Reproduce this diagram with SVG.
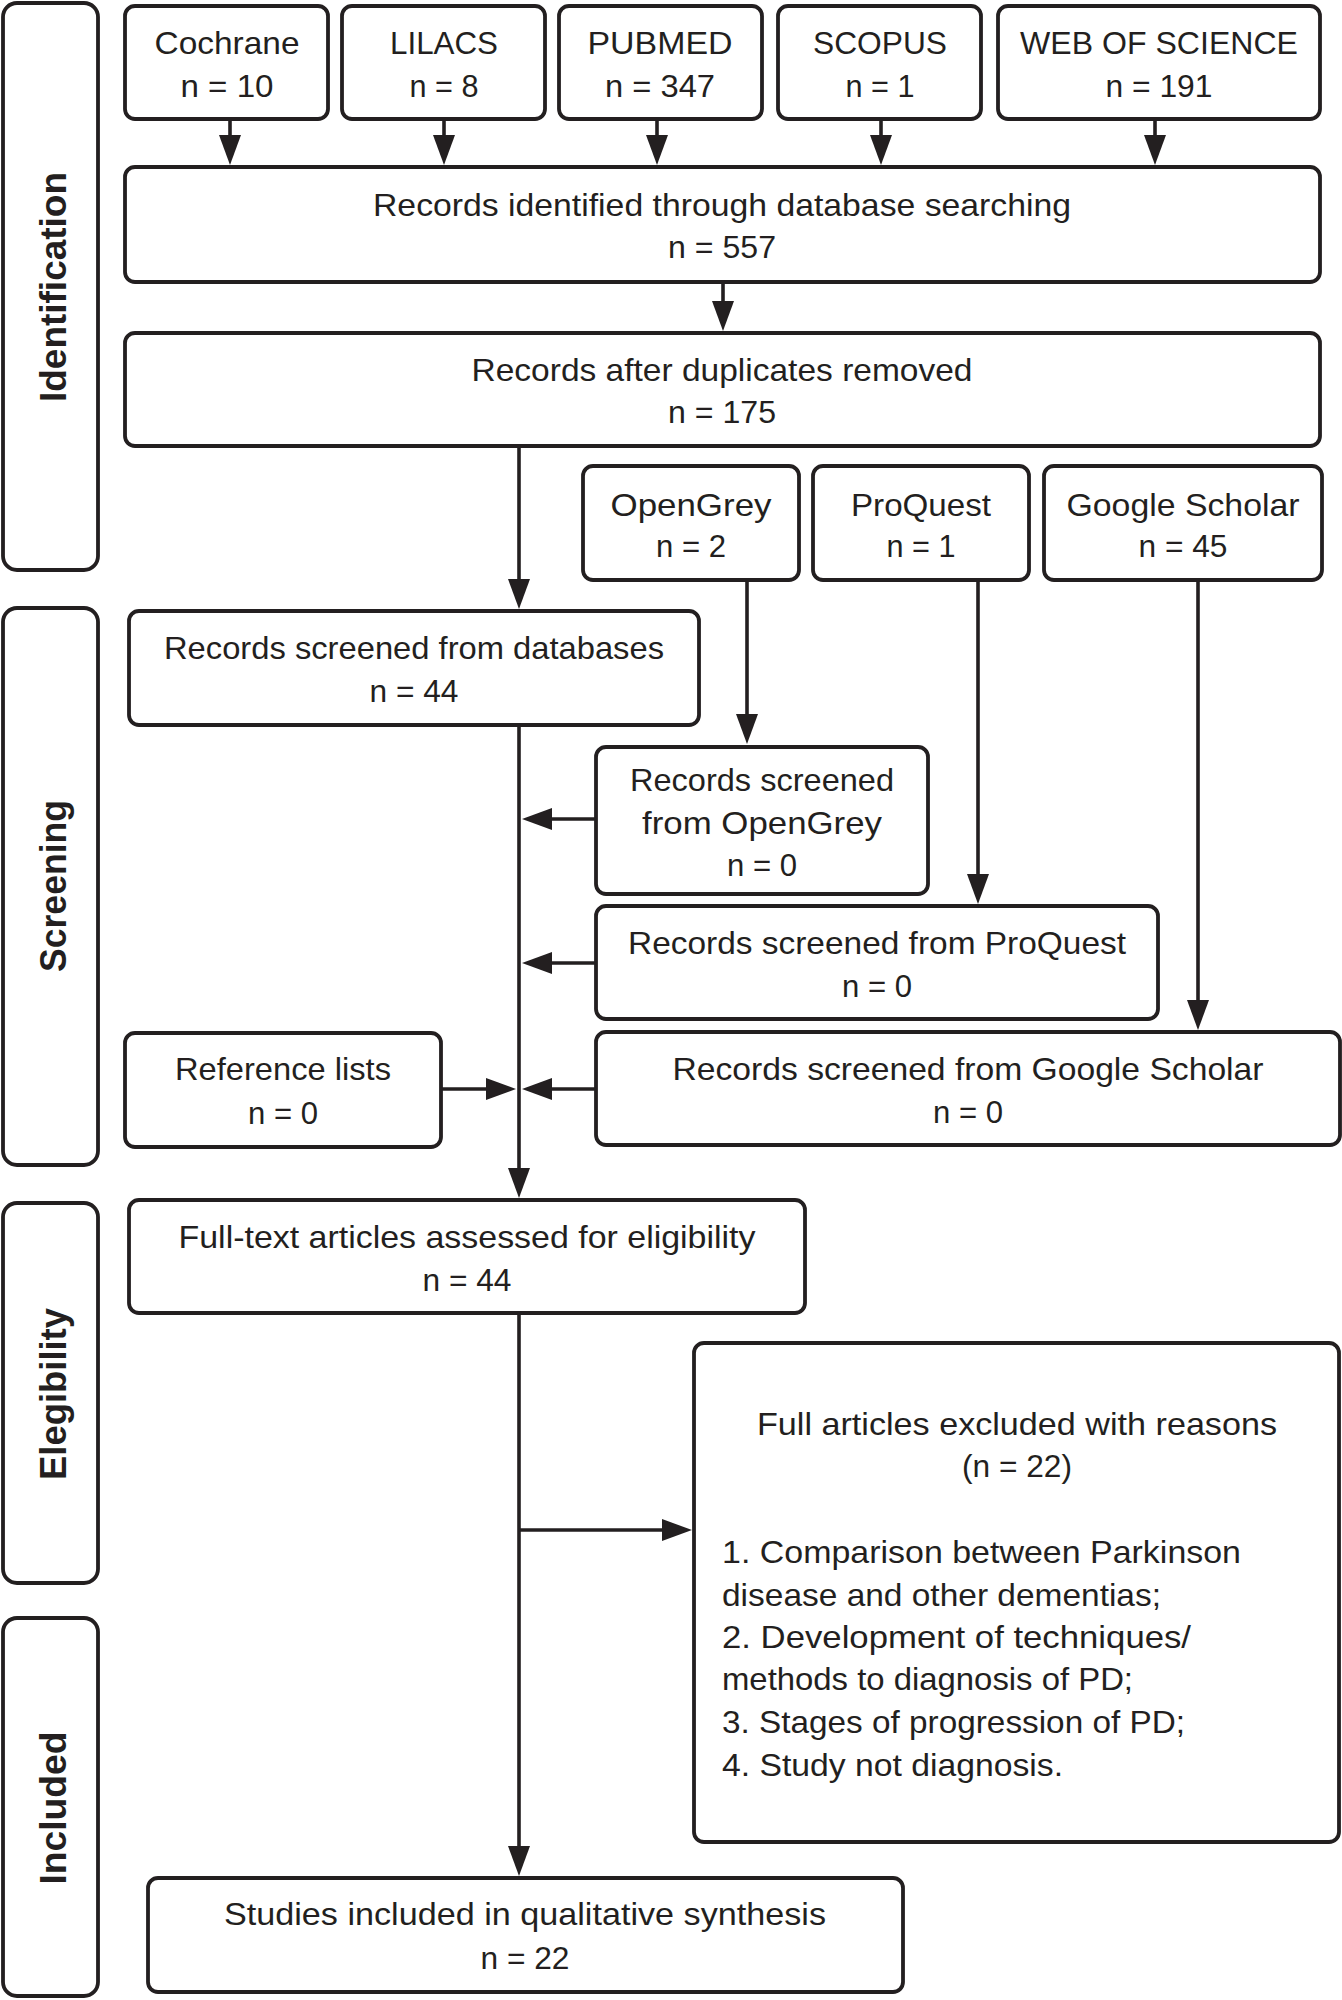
<svg xmlns="http://www.w3.org/2000/svg" width="1342" height="2000" viewBox="0 0 1342 2000">
<defs>
<style>
.box{fill:#fff;stroke:#231f20;stroke-width:3.8}
.stage{fill:#fff;stroke:#231f20;stroke-width:3.8}
.t{font-family:"Liberation Sans",Arial,sans-serif;font-size:32px;fill:#231f20;text-anchor:middle}
.l{font-family:"Liberation Sans",Arial,sans-serif;font-size:32px;fill:#231f20;text-anchor:start}
.s{font-family:"Liberation Sans",Arial,sans-serif;font-size:37px;font-weight:bold;fill:#231f20;text-anchor:middle}
.c{fill:none;stroke:#231f20;stroke-width:3.6}
</style>
<marker id="ah" markerUnits="userSpaceOnUse" markerWidth="30" markerHeight="22" viewBox="0 0 30 22" refX="20" refY="11" orient="auto">
<path d="M0,0 L30,11 L0,22 z" fill="#231f20"/>
</marker>
</defs>
<rect width="1342" height="2000" fill="#fff"/>

<g id="stage-identification"><rect class="stage" x="3" y="3" width="95" height="567" rx="14"/><text class="s" transform="translate(66,287) rotate(-90)" textLength="230" lengthAdjust="spacingAndGlyphs">Identification</text></g>
<g id="stage-screening"><rect class="stage" x="3" y="608" width="95" height="557" rx="14"/><text class="s" transform="translate(66,886) rotate(-90)" textLength="172" lengthAdjust="spacingAndGlyphs">Screening</text></g>
<g id="stage-elegibility"><rect class="stage" x="3" y="1203" width="95" height="380" rx="14"/><text class="s" transform="translate(66,1394) rotate(-90)" textLength="172" lengthAdjust="spacingAndGlyphs">Elegibility</text></g>
<g id="stage-included"><rect class="stage" x="3" y="1618" width="95" height="378" rx="14"/><text class="s" transform="translate(66,1808) rotate(-90)" textLength="153" lengthAdjust="spacingAndGlyphs">Included</text></g>

<g id="connectors">
<line class="c" x1="230" y1="119" x2="230" y2="155" marker-end="url(#ah)"/>
<line class="c" x1="444" y1="119" x2="444" y2="155" marker-end="url(#ah)"/>
<line class="c" x1="657" y1="119" x2="657" y2="155" marker-end="url(#ah)"/>
<line class="c" x1="881" y1="119" x2="881" y2="155" marker-end="url(#ah)"/>
<line class="c" x1="1155" y1="119" x2="1155" y2="155" marker-end="url(#ah)"/>
<line class="c" x1="723" y1="282" x2="723" y2="321" marker-end="url(#ah)"/>
<line class="c" x1="519" y1="446" x2="519" y2="599" marker-end="url(#ah)"/>
<line class="c" x1="747" y1="580" x2="747" y2="734" marker-end="url(#ah)"/>
<line class="c" x1="978" y1="580" x2="978" y2="894" marker-end="url(#ah)"/>
<line class="c" x1="1198" y1="580" x2="1198" y2="1020" marker-end="url(#ah)"/>
<line class="c" x1="519" y1="725" x2="519" y2="1188" marker-end="url(#ah)"/>
<line class="c" x1="596" y1="819" x2="532" y2="819" marker-end="url(#ah)"/>
<line class="c" x1="596" y1="963" x2="532" y2="963" marker-end="url(#ah)"/>
<line class="c" x1="596" y1="1089" x2="532" y2="1089" marker-end="url(#ah)"/>
<line class="c" x1="441" y1="1089" x2="506" y2="1089" marker-end="url(#ah)"/>
<line class="c" x1="519" y1="1313" x2="519" y2="1866" marker-end="url(#ah)"/>
<line class="c" x1="519" y1="1530" x2="682" y2="1530" marker-end="url(#ah)"/>
</g>

<g id="cochrane"><rect class="box" x="125" y="6" width="203" height="113" rx="10"/><text class="t" x="227" y="54" textLength="145" lengthAdjust="spacingAndGlyphs">Cochrane</text><text class="t" x="227" y="97" textLength="93" lengthAdjust="spacingAndGlyphs">n = 10</text></g>
<g id="lilacs"><rect class="box" x="342" y="6" width="203" height="113" rx="10"/><text class="t" x="444" y="54" textLength="108" lengthAdjust="spacingAndGlyphs">LILACS</text><text class="t" x="444" y="97" textLength="69" lengthAdjust="spacingAndGlyphs">n = 8</text></g>
<g id="pubmed"><rect class="box" x="559" y="6" width="203" height="113" rx="10"/><text class="t" x="660" y="54" textLength="145" lengthAdjust="spacingAndGlyphs">PUBMED</text><text class="t" x="660" y="97" textLength="110" lengthAdjust="spacingAndGlyphs">n = 347</text></g>
<g id="scopus"><rect class="box" x="778" y="6" width="203" height="113" rx="10"/><text class="t" x="880" y="54" textLength="134" lengthAdjust="spacingAndGlyphs">SCOPUS</text><text class="t" x="880" y="97" textLength="69" lengthAdjust="spacingAndGlyphs">n = 1</text></g>
<g id="wos"><rect class="box" x="998" y="6" width="322" height="113" rx="10"/><text class="t" x="1159" y="54" textLength="278" lengthAdjust="spacingAndGlyphs">WEB OF SCIENCE</text><text class="t" x="1159" y="97" textLength="107" lengthAdjust="spacingAndGlyphs">n = 191</text></g>

<g id="identified"><rect class="box" x="125" y="167" width="1195" height="115" rx="10"/><text class="t" x="722" y="216" textLength="698" lengthAdjust="spacingAndGlyphs">Records identified through database searching</text><text class="t" x="722" y="258" textLength="108" lengthAdjust="spacingAndGlyphs">n = 557</text></g>
<g id="duplicates"><rect class="box" x="125" y="333" width="1195" height="113" rx="10"/><text class="t" x="722" y="381" textLength="501" lengthAdjust="spacingAndGlyphs">Records after duplicates removed</text><text class="t" x="722" y="423" textLength="108" lengthAdjust="spacingAndGlyphs">n = 175</text></g>

<g id="opengrey"><rect class="box" x="583" y="466" width="216" height="114" rx="10"/><text class="t" x="691" y="516" textLength="161" lengthAdjust="spacingAndGlyphs">OpenGrey</text><text class="t" x="691" y="557" textLength="70" lengthAdjust="spacingAndGlyphs">n = 2</text></g>
<g id="proquest"><rect class="box" x="813" y="466" width="216" height="114" rx="10"/><text class="t" x="921" y="516" textLength="140" lengthAdjust="spacingAndGlyphs">ProQuest</text><text class="t" x="921" y="557" textLength="69" lengthAdjust="spacingAndGlyphs">n = 1</text></g>
<g id="googlescholar"><rect class="box" x="1044" y="466" width="278" height="114" rx="10"/><text class="t" x="1183" y="516" textLength="233" lengthAdjust="spacingAndGlyphs">Google Scholar</text><text class="t" x="1183" y="557" textLength="89" lengthAdjust="spacingAndGlyphs">n = 45</text></g>

<g id="screened-databases"><rect class="box" x="129" y="611" width="570" height="114" rx="10"/><text class="t" x="414" y="659" textLength="500" lengthAdjust="spacingAndGlyphs">Records screened from databases</text><text class="t" x="414" y="702" textLength="89" lengthAdjust="spacingAndGlyphs">n = 44</text></g>
<g id="screened-opengrey"><rect class="box" x="596" y="747" width="332" height="147" rx="10"/><text class="t" x="762" y="791" textLength="264" lengthAdjust="spacingAndGlyphs">Records screened</text><text class="t" x="762" y="834" textLength="240" lengthAdjust="spacingAndGlyphs">from OpenGrey</text><text class="t" x="762" y="876" textLength="70" lengthAdjust="spacingAndGlyphs">n = 0</text></g>
<g id="screened-proquest"><rect class="box" x="596" y="906" width="562" height="113" rx="10"/><text class="t" x="877" y="954" textLength="498" lengthAdjust="spacingAndGlyphs">Records screened from ProQuest</text><text class="t" x="877" y="997" textLength="70" lengthAdjust="spacingAndGlyphs">n = 0</text></g>
<g id="screened-googlescholar"><rect class="box" x="596" y="1032" width="744" height="113" rx="10"/><text class="t" x="968" y="1080" textLength="591" lengthAdjust="spacingAndGlyphs">Records screened from Google Scholar</text><text class="t" x="968" y="1123" textLength="70" lengthAdjust="spacingAndGlyphs">n = 0</text></g>
<g id="reference-lists"><rect class="box" x="125" y="1033" width="316" height="114" rx="10"/><text class="t" x="283" y="1080" textLength="216" lengthAdjust="spacingAndGlyphs">Reference lists</text><text class="t" x="283" y="1124" textLength="70" lengthAdjust="spacingAndGlyphs">n = 0</text></g>

<g id="fulltext"><rect class="box" x="129" y="1200" width="676" height="113" rx="10"/><text class="t" x="467" y="1248" textLength="577" lengthAdjust="spacingAndGlyphs">Full-text articles assessed for eligibility</text><text class="t" x="467" y="1291" textLength="89" lengthAdjust="spacingAndGlyphs">n = 44</text></g>

<g id="excluded"><rect class="box" x="694" y="1343" width="645" height="499" rx="10"/>
<text class="t" x="1017" y="1435" textLength="520" lengthAdjust="spacingAndGlyphs">Full articles excluded with reasons</text>
<text class="t" x="1017" y="1477" textLength="110" lengthAdjust="spacingAndGlyphs">(n = 22)</text>
<text class="l" x="722" y="1563" textLength="519" lengthAdjust="spacingAndGlyphs">1. Comparison between Parkinson</text>
<text class="l" x="722" y="1606" textLength="439" lengthAdjust="spacingAndGlyphs">disease and other dementias;</text>
<text class="l" x="722" y="1648" textLength="469" lengthAdjust="spacingAndGlyphs">2. Development of techniques/</text>
<text class="l" x="722" y="1690" textLength="411" lengthAdjust="spacingAndGlyphs">methods to diagnosis of PD;</text>
<text class="l" x="722" y="1733" textLength="463" lengthAdjust="spacingAndGlyphs">3. Stages of progression of PD;</text>
<text class="l" x="722" y="1776" textLength="341" lengthAdjust="spacingAndGlyphs">4. Study not diagnosis.</text>
</g>

<g id="included-studies"><rect class="box" x="148" y="1878" width="755" height="114" rx="10"/><text class="t" x="525" y="1925" textLength="602" lengthAdjust="spacingAndGlyphs">Studies included in qualitative synthesis</text><text class="t" x="525" y="1969" textLength="89" lengthAdjust="spacingAndGlyphs">n = 22</text></g>
</svg>
